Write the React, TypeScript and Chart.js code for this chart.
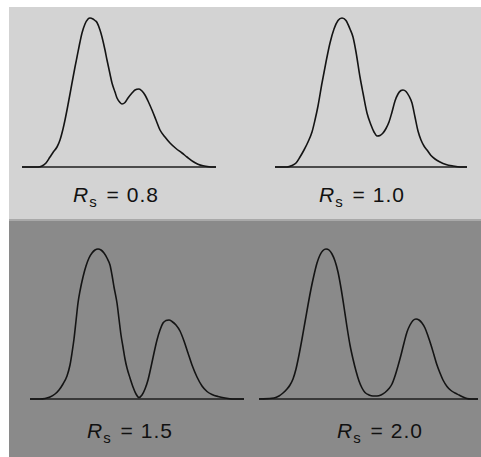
import React, { useEffect, useRef } from "react";
import { Chart, registerables } from "chart.js";

Chart.register(...registerables);

// Retention-time offsets (arbitrary units) and detector signal for each chromatogram
const time08 = [0, 16, 20, 24, 28, 31, 35, 38, 41, 43, 45, 48, 50, 53, 55, 58, 60, 63, 66, 68, 71, 73, 75, 78, 80, 83, 85, 88, 90, 93, 95, 98, 100, 103, 106, 110, 113, 117, 120, 123, 126, 130, 134, 138, 143, 148, 154, 160, 165, 171, 176, 181, 187, 194];
const signal08 = [0, 0, 1, 4, 10, 14.5, 20, 27, 38, 47, 57, 73, 84, 100, 110, 125, 134, 143, 148, 149, 148, 146.5, 144.5, 137, 130, 117, 107, 93, 84, 75, 69, 64.5, 63, 64.5, 69, 74, 77, 78, 76, 72, 66, 57, 47, 37, 30, 24, 18.5, 14, 10, 5.5, 2.8, 1.2, 0.3, 0];

const time10 = [0, 12, 17, 21, 25, 29, 33, 37, 40, 43, 47, 51, 55, 59, 63, 67, 71, 75, 78, 81, 85, 88, 92, 96, 99, 102, 105, 108, 111, 114, 117, 120, 123, 126, 128, 131, 134, 137, 140, 143, 146, 149, 152, 156, 160, 165, 171, 178, 185, 192];
const signal10 = [0, 0, 1.5, 4, 10, 17, 25, 35, 47, 61, 84, 105, 124, 138, 146.5, 149, 146.5, 138, 130, 115, 90, 74, 54, 42, 35, 31, 31.5, 34, 38.5, 45, 55, 66, 73, 76.5, 77, 75.5, 71, 64, 50, 36, 27, 21, 17, 11.5, 8, 5, 2.5, 1, 0, 0];

const time15 = [0, 10, 15, 20, 25, 29, 33, 37, 40, 42, 44, 46, 48, 50, 53, 56, 59, 62, 65, 68, 71, 74, 77, 80, 82, 84, 87, 89, 91, 93, 95, 97, 100, 103, 106, 109, 112, 115, 118, 121, 124, 127, 130, 133, 136, 139, 142, 146, 150, 154, 158, 162, 167, 172, 177, 182, 188, 195, 202, 214];
const signal15 = [0, 0, 0.5, 2, 5, 9, 15, 23, 34, 46, 60, 78, 96, 108, 122, 133, 141, 146, 149, 150, 149, 146, 141, 134, 124, 112, 96, 80, 64, 52, 40, 31, 21, 12, 5, 1.5, 4, 10, 19, 32, 46, 59, 69, 76, 78.5, 79, 77.5, 74, 68, 58, 46, 34, 22, 13, 7.5, 4.5, 2.5, 1, 0, 0];

const time20 = [0, 15, 20, 24, 28, 31, 34, 37, 40, 43, 46, 49, 52, 55, 58, 61, 64, 67, 70, 73, 76, 79, 82, 85, 88, 91, 94, 97, 100, 103, 106, 110, 114, 118, 122, 126, 130, 133, 136, 139, 142, 145, 148, 151, 154, 157, 160, 163, 166, 169, 172, 175, 178, 181, 184, 188, 192, 196, 200, 204, 208, 212, 219];
const signal20 = [0, 1, 3, 6, 10, 14, 20, 30, 44, 60, 77, 94, 110, 124, 136, 144, 148.5, 150, 149, 145, 138, 127, 111, 92, 72, 54, 40, 28, 18, 11, 6.5, 4, 3, 3, 4, 6.5, 10.5, 15, 23, 33, 44, 56, 67, 74, 78.5, 80, 79, 76, 71, 63, 54, 44, 34, 26, 19, 12.5, 8.5, 6, 4, 2, 0.5, 0, 0];

// Baseline spans (same time units) and resolution labels
const baselineSpans = [194, 192, 214, 219];
const resolutionLabels = ["0.8", "1.0", "1.5", "2.0"];

const PAD = 6;

type PanelProps = {
  time: number[];
  signal: number[];
  span: number;
  start: number;
  baseline: number;
};

function Panel({ time, signal, span, start, baseline }: PanelProps) {
  const ref = useRef<HTMLCanvasElement>(null);
  const width = span + 2 * PAD;
  const height = 172;
  useEffect(() => {
    if (!ref.current) return;
    const chart = new Chart(ref.current, {
      type: "line",
      data: {
        datasets: [
          {
            data: time.map((t, i) => ({ x: t, y: signal[i] })),
            borderColor: "#141414",
            borderWidth: 1.6,
            pointRadius: 0,
            cubicInterpolationMode: "monotone",
            fill: false,
          },
          {
            data: [
              { x: 0, y: 0 },
              { x: span, y: 0 },
            ],
            borderColor: "#1e1e1e",
            borderWidth: 1.6,
            pointRadius: 0,
            fill: false,
          },
        ],
      },
      options: {
        animation: false,
        responsive: false,
        maintainAspectRatio: false,
        events: [],
        layout: { padding: 0 },
        plugins: { legend: { display: false }, tooltip: { enabled: false }, title: { display: false } },
        scales: {
          x: { type: "linear", min: -PAD, max: span + PAD, display: false },
          y: { type: "linear", min: -12, max: 160, display: false },
        },
      },
    });
    return () => chart.destroy();
  }, [time, signal, span]);
  return (
    <canvas
      ref={ref}
      width={width}
      height={height}
      style={{
        position: "absolute",
        left: start - PAD,
        top: baseline - 160,
        width,
        height,
      }}
    />
  );
}

function Label({ value, center, textBaseline }: { value: string; center: number; textBaseline: number }) {
  return (
    <div
      style={{
        position: "absolute",
        left: center - 70,
        width: 140,
        top: textBaseline - 18,
        textAlign: "center",
        fontFamily: "'Liberation Sans', Arial, Helvetica, sans-serif",
        fontSize: 21,
        lineHeight: "21px",
        color: "#111111",
        whiteSpace: "nowrap",
        letterSpacing: "1px",
      }}
    >
      <i>R</i>
      <span style={{ fontSize: 15, position: "relative", top: 5, marginRight: 2 }}>s</span>
      {" = " + value}
    </div>
  );
}

export default function App() {
  return (
    <div
      style={{
        position: "absolute",
        left: 0,
        top: 0,
        width: 481,
        height: 457,
        background: "#ffffff",
        overflow: "hidden",
      }}
    >
      <div style={{ position: "absolute", left: 9, top: 7, width: 472, height: 213, background: "#d3d3d3" }} />
      <div style={{ position: "absolute", left: 9, top: 219, width: 472, height: 2, background: "#a9a9a9" }} />
      <div style={{ position: "absolute", left: 9, top: 221, width: 472, height: 236, background: "#8a8a8a" }} />
      <Panel time={time08} signal={signal08} span={baselineSpans[0]} start={22} baseline={167} />
      <Panel time={time10} signal={signal10} span={baselineSpans[1]} start={275} baseline={167} />
      <Panel time={time15} signal={signal15} span={baselineSpans[2]} start={30} baseline={399} />
      <Panel time={time20} signal={signal20} span={baselineSpans[3]} start={259} baseline={399} />
      <Label value={resolutionLabels[0]} center={116} textBaseline={202} />
      <Label value={resolutionLabels[1]} center={362} textBaseline={202} />
      <Label value={resolutionLabels[2]} center={130} textBaseline={438} />
      <Label value={resolutionLabels[3]} center={380} textBaseline={438} />
    </div>
  );
}
